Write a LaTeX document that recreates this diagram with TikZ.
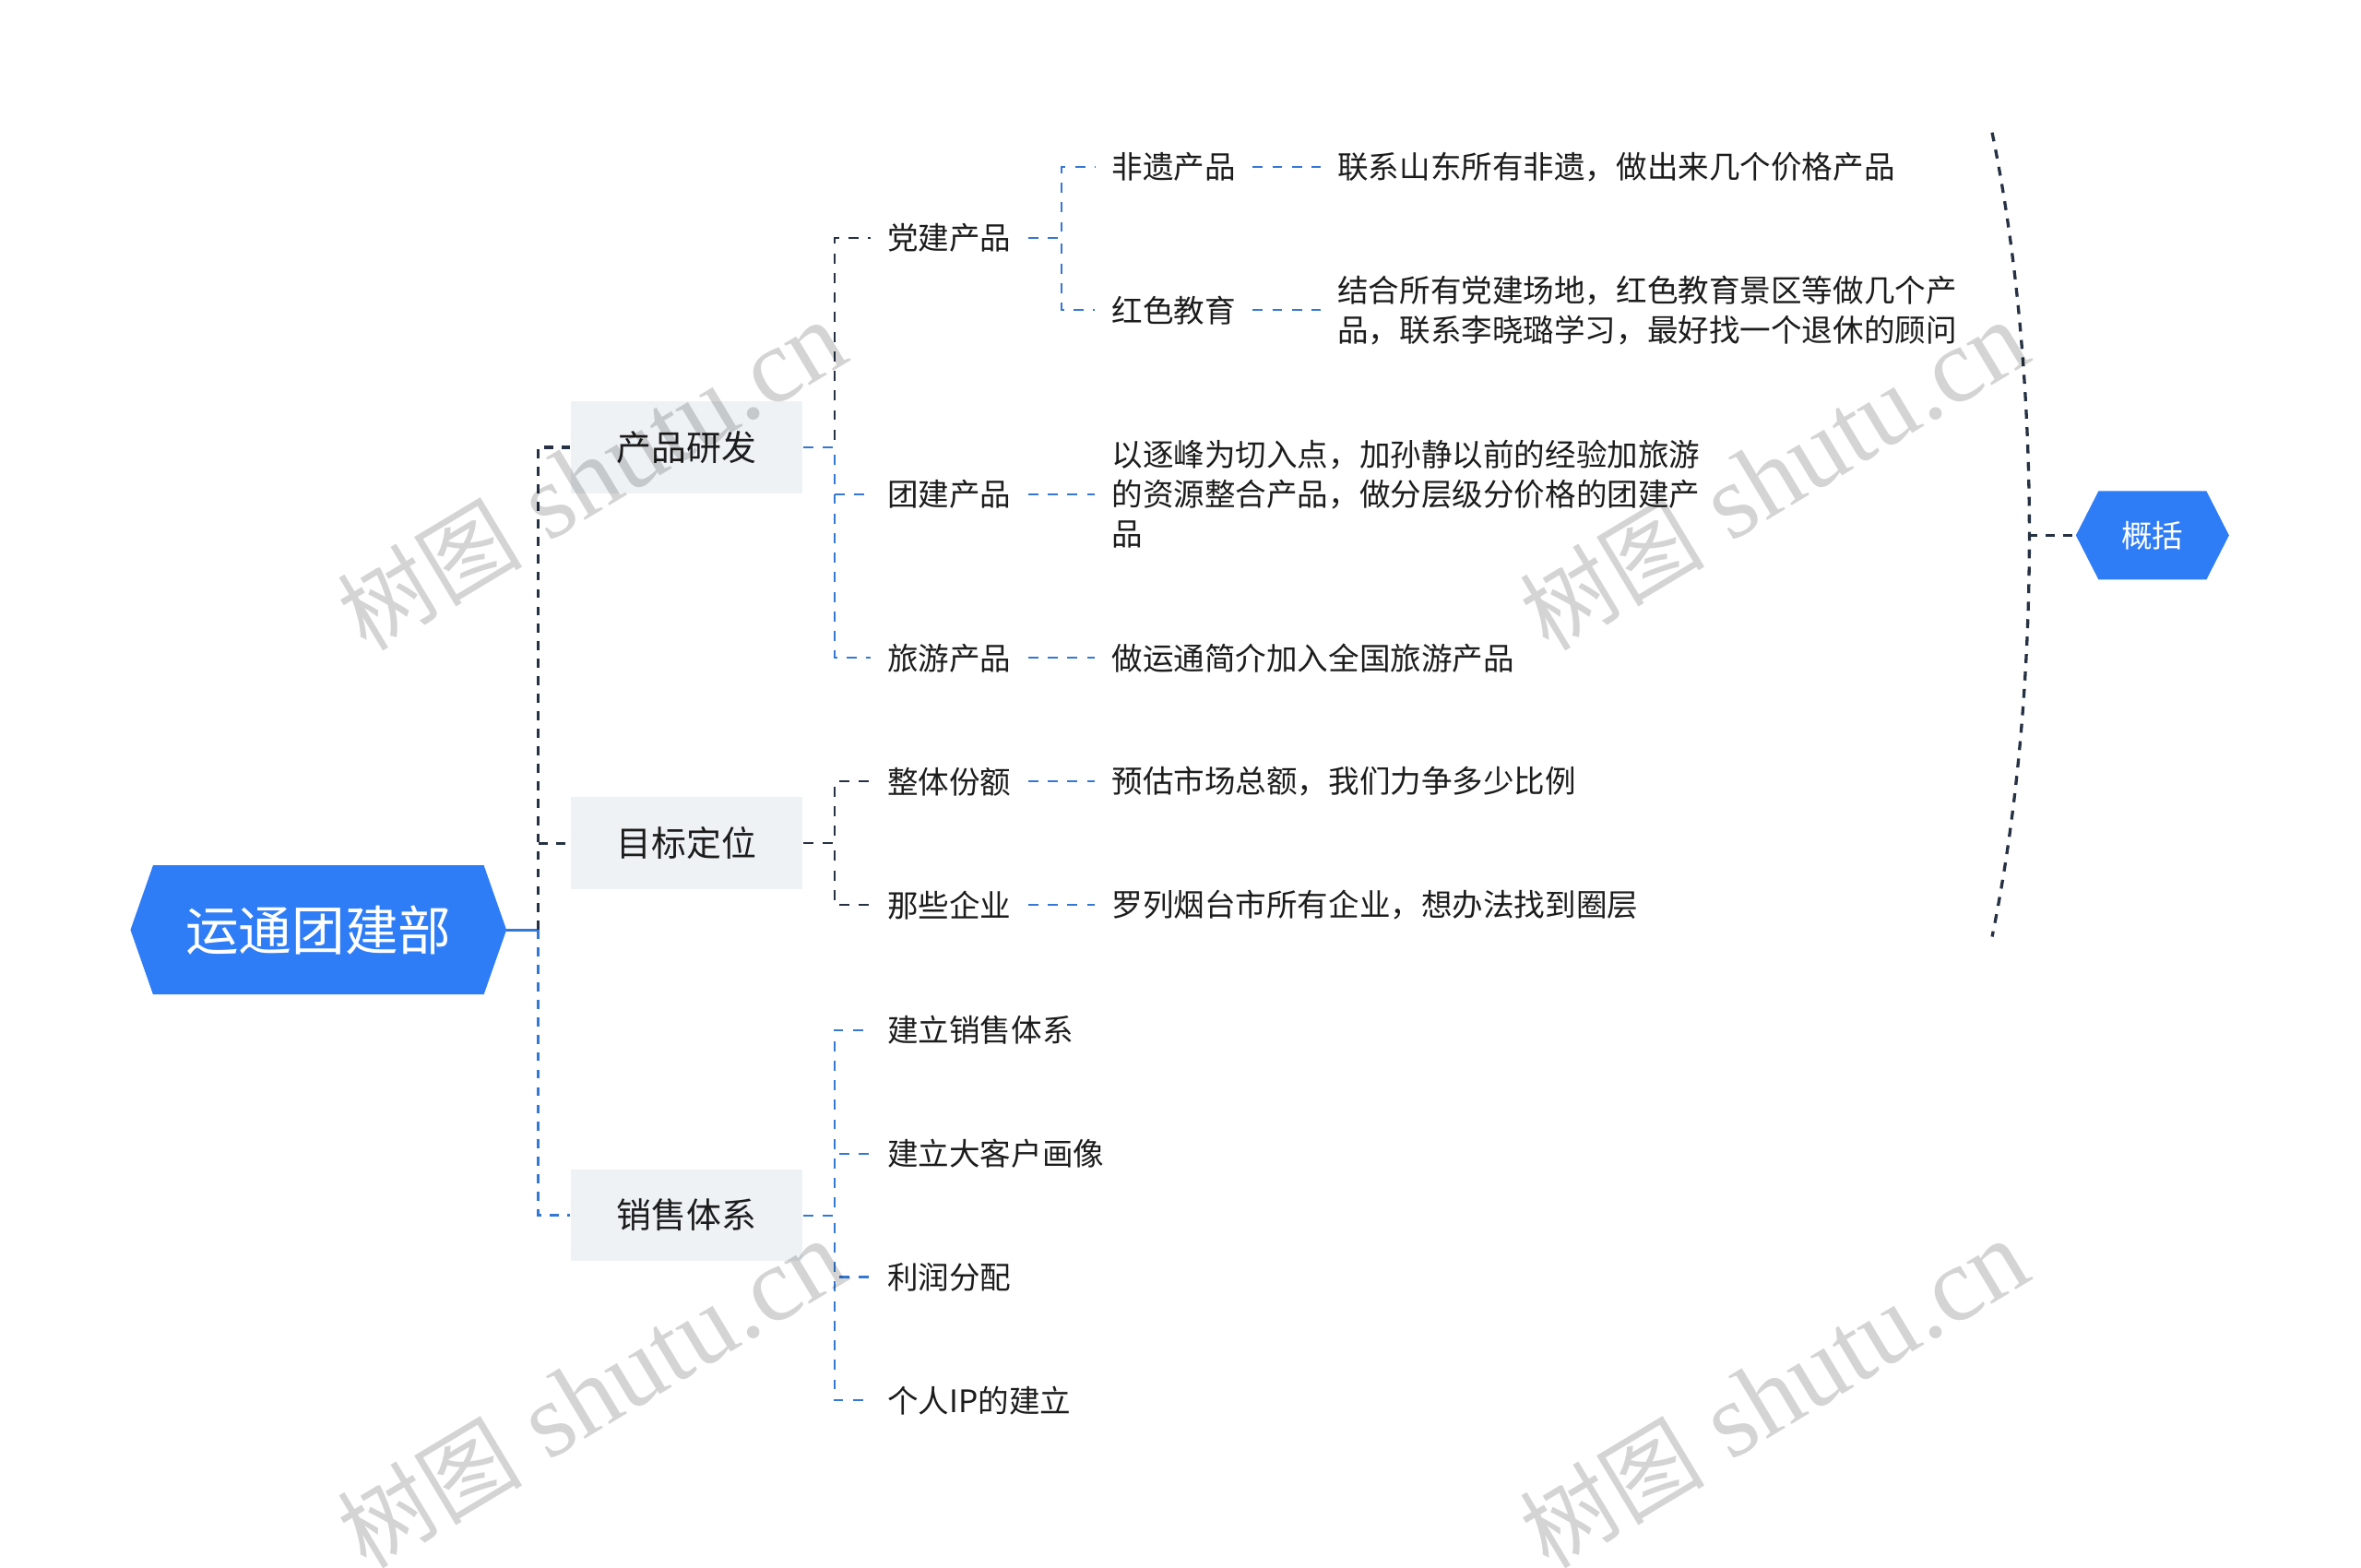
\documentclass[tikz,border=0pt]{standalone}
\usepackage{fontspec}
\newfontfamily\cjk{Noto Sans CJK SC}
\newfontfamily\wmserif{Liberation Serif}
\usetikzlibrary{calc}
\pgfdeclarelayer{background}
\pgfsetlayers{background,main}
\definecolor{hexblue}{RGB}{47,125,246}
\definecolor{linkblue}{RGB}{52,120,214}
\definecolor{linkdark}{RGB}{38,50,68}
\definecolor{boxgray}{RGB}{239,242,245}
\definecolor{inkdark}{RGB}{28,28,28}

\begin{document}
\begin{tikzpicture}[x=0.2mm, y=-0.2mm,
    hexnode/.style={text=white, inner sep=0pt},
    topic/.style={fill=boxgray, font=\cjk\fontsize{13.2}{16}\selectfont, text=inkdark,
      minimum width=30.8mm, minimum height=12.2mm, inner sep=0pt},
    item/.style={anchor=west, font=\cjk\fontsize{11.7}{15}\selectfont, text=inkdark,
      align=left, inner xsep=2.2mm, inner ysep=1pt},
    dkmain/.style={draw=linkdark, line width=1.15pt, dash pattern=on 3.4pt off 3.2pt},
    blmain/.style={draw=linkblue, line width=1.15pt, dash pattern=on 3.4pt off 3.2pt},
    dksub/.style={draw=linkdark, line width=0.7pt, dash pattern=on 3.8pt off 3.6pt},
    blsub/.style={draw=linkblue, line width=0.7pt, dash pattern=on 3.8pt off 3.6pt},
    watermark/.style={font=\wmserif\fontsize{40}{40}\selectfont, text=black,
      text opacity=0.17, rotate=31}]
    \useasboundingbox (0,0) rectangle (1568,1041);

    % centras ir santrauka
    \node[hexnode, font=\cjk\fontsize{20.1}{24}\selectfont,
      minimum width=49.8mm, minimum height=17mm] (root) at (211.5,617.5) {运通团建部};
    \node[hexnode, font=\cjk\fontsize{11.7}{14}\selectfont,
      minimum width=20.2mm, minimum height=11.6mm] (gk) at (1429.5,355.5) {概括};

    % pirmas lygis
    \node[topic] (cpyf) at (456,297) {产品研发};
    \node[topic] (mbdw) at (456,560) {目标定位};
    \node[topic] (xstx) at (456,807) {销售体系};

    % antras lygis
    \node[item] (dj) at (578,158) {党建产品};
    \node[item] (tj) at (578,328) {团建产品};
    \node[item] (ly) at (578,437) {旅游产品};
    \node[item] (zt) at (578,519) {整体份额};
    \node[item] (nx) at (578,601) {那些企业};
    \node[item] (jx) at (578,684) {建立销售体系};
    \node[item] (jk) at (578,766) {建立大客户画像};
    \node[item] (lr) at (578,848) {利润分配};
    \node[item] (ip) at (578,930) {个人IP的建立};

    % trečias lygis ir paaiškinimai
    \node[item] (fy) at (727,111) {非遗产品};
    \node[item] (hs) at (727,206) {红色教育};
    \node[item] (fyd) at (877,111) {联系山东所有非遗，做出来几个价格产品};
    \node[item] (hsd) at (877,206) {结合所有党建场地，红色教育景区等做几个产\\品，联系李晓璐学习，最好找一个退休的顾问};
    \node[item] (tjd) at (727,328) {以逐峰为切入点，加孙静以前的经验加旅游\\的资源整合产品，做分层级分价格的团建产\\品};
    \node[item] (lyd) at (727,437) {做运通简介加入全国旅游产品};
    \node[item] (ztd) at (727,519) {预估市场总额，我们力争多少比例};
    \node[item] (nxd) at (727,601) {罗列烟台市所有企业，想办法找到圈层};

    \begin{pgfonlayer}{background}
      \foreach \n in {root,gk}
        \fill[hexblue] (\n.west) -- ($(\n.north west)+(15,0)$) -- ($(\n.north east)+(-15,0)$)
          -- (\n.east) -- ($(\n.south east)+(-15,0)$) -- ($(\n.south west)+(15,0)$) -- cycle;
    \end{pgfonlayer}

    % jungtys
    \draw[linkblue, line width=1.15pt] (root.east) -- ++(21,0) coordinate (rt);
    \draw[dkmain] (rt) |- (cpyf.west);
    \draw[dkmain] (rt) |- (mbdw.west);
    \draw[blmain] (rt) |- (xstx.west);

    \foreach \c/\s in {dj/dksub, tj/blsub, ly/blsub}
      \draw[\s] (cpyf.east) -- ++(21,0) |- (\c.west);
    \foreach \c in {zt,nx}
      \draw[dksub] (mbdw.east) -- ++(21,0) |- (\c.west);
    \foreach \c in {jx,jk,lr,ip}
      \draw[blsub] (xstx.east) -- ++(21,0) |- (\c.west);
    \foreach \c in {fy,hs}
      \draw[blsub] (dj.east) -- ++(22,0) |- (\c.west);
    \foreach \a/\b in {fy/fyd, hs/hsd, tj/tjd, ly/lyd, zt/ztd, nx/nxd}
      \draw[blsub] (\a.east) -- (\b.west);

    % skliaustas
    \coordinate (bt) at (1323,88);
    \coordinate (bb) at (1323,622);
    \coordinate (bm) at (1347,355.5);
    \draw[dkmain] (bt) .. controls +(33,160) and +(33,-160) .. (bb);
    \draw[dkmain] (bm) -- (gk.west);

    % vandens ženklai
    \foreach \p [count=\i] in {(393,316),(1178,316),(393,926),(1178,926)}
      \node[watermark] (wm\i) at \p {{\cjk\fontsize{35}{40}\selectfont 树图} shutu.cn};
\end{tikzpicture}
\end{document}
